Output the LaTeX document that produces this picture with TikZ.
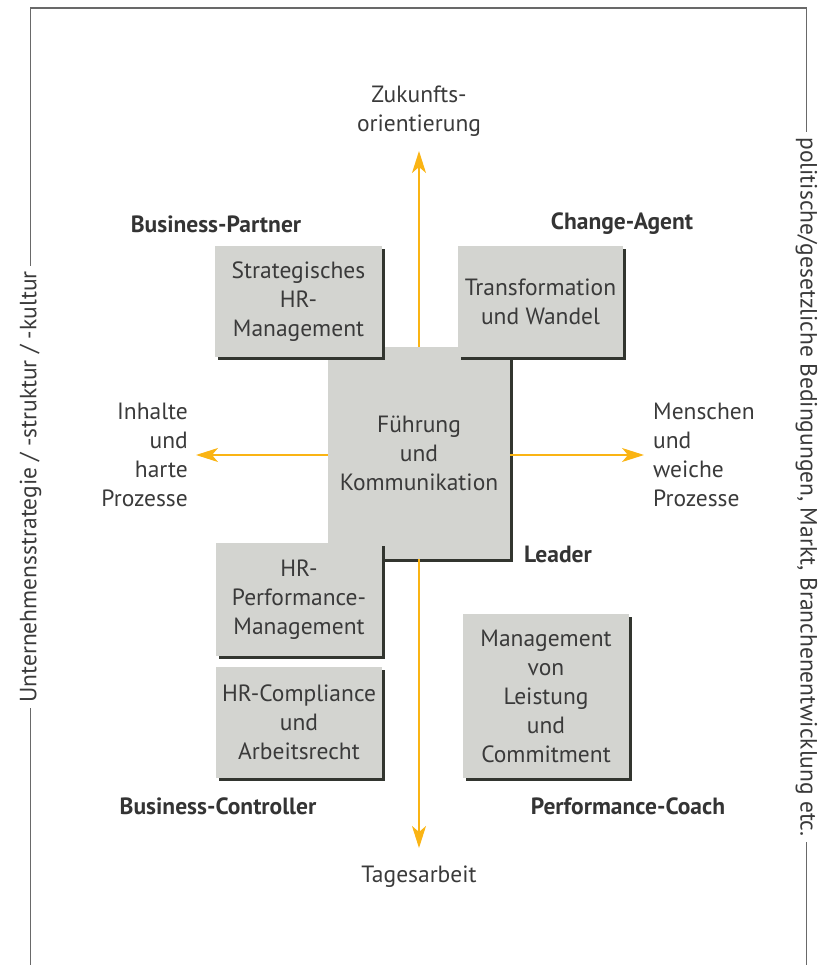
\documentclass[tikz,border=0pt]{standalone}
\usepackage{fontspec}
\setmainfont{PT Sans}
\usetikzlibrary{arrows.meta,shadows}
\definecolor{boxgray}{RGB}{211,212,208}
\definecolor{shadowc}{RGB}{50,53,47}
\definecolor{txt}{RGB}{58,58,58}
\definecolor{orng}{RGB}{250,180,20}
\definecolor{framec}{RGB}{105,105,105}
\begin{document}
\begin{tikzpicture}[x=1pt,y=-1pt,
  box/.style={fill=boxgray, text=txt, align=center, inner sep=0pt,
    font=\fontsize{23.5}{29}\selectfont,
    drop shadow={shadow xshift=3pt, shadow yshift=-3pt, fill=shadowc, opacity=1}},
  lab/.style={text=txt, align=center, inner sep=0pt, font=\fontsize{23.5}{29}\selectfont},
  blab/.style={text=txt!90!black, inner sep=0pt, font=\fontsize{23.5}{29}\selectfont\bfseries},
  side/.style={text=txt, fill=white, inner xsep=5pt, inner ysep=0pt, font=\fontsize{23.5}{29}\selectfont},
  arr/.style={draw=orng, line width=1.5pt, -{Stealth[length=22pt,width=14pt,inset=6pt]}}
]
\useasboundingbox (0,0) rectangle (817,965);
% frame
\draw[framec, line width=1.3pt] (30.5,966) -- (30.5,8) -- (806.5,8) -- (806.5,966);
\node[side, rotate=90] (lside) at (30.5,487) {Unternehmensstrategie / -struktur / -kultur};
\node[side, rotate=-90] (rside) at (806.5,487) {politische/gesetzliche Bedingungen, Markt, Branchenentwicklung etc.};
% central box
\node[box, minimum width=182pt, minimum height=212pt] (fk) at (419,453) {Führung\\und\\Kommunikation};
% arrow end points
\coordinate (tTop) at (419,151);
\coordinate (tBot) at (419,848);
\coordinate (tLeft) at (196,455);
\coordinate (tRight) at (644,455);
\draw[arr] (fk.north) -- (tTop);
\draw[arr] (fk.south) -- (tBot);
\draw[arr] (fk.west |- tLeft) -- (tLeft);
\draw[arr] (fk.east |- tRight) -- (tRight);
% corner boxes
\node[box, minimum width=167pt, minimum height=111pt] (shr) at (298.5,301.5) {Strategisches\\HR-\\Management};
\node[box, minimum width=165pt, minimum height=111pt] (tw) at (540.5,301.5) {Transformation\\und Wandel};
\node[box, minimum width=166pt, minimum height=113pt] (hrp) at (299,599.5) {HR-\\Performance-\\Management};
\node[box, minimum width=166pt, minimum height=111pt] (hrc) at (299,722.5) {HR-Compliance\\und\\Arbeitsrecht};
\node[box, minimum width=166pt, minimum height=164pt] (mvl) at (546,696) {Management\\von\\Leistung\\und\\Commitment};
% labels
\node[lab] (zuk) at (419,111) {Zukunfts-\\orientierung};
\node[blab] (bp) at (216,224) {Business-Partner};
\node[blab] (ca) at (622,224) {Change-Agent};
\node[lab, align=right, anchor=east] (inh) at (188,455) {Inhalte\\und\\harte\\Prozesse};
\node[lab, align=left, anchor=west] (men) at (653,455) {Menschen\\und\\weiche\\Prozesse};
\node[blab, anchor=west] (lead) at (524,554) {Leader};
\node[blab] (bc) at (218,806) {Business-Controller};
\node[blab] (pc) at (628,806) {Performance-Coach};
\node[lab] (tag) at (419,877) {Tagesarbeit};
\end{tikzpicture}
\end{document}
